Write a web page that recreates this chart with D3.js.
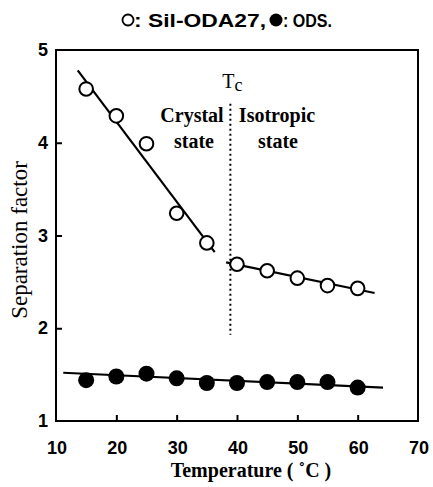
<!DOCTYPE html>
<html><head><meta charset="utf-8">
<script src="https://cdn.jsdelivr.net/npm/d3@7"></script>
<style>body{margin:0;background:#fff}svg{display:block}</style>
</head><body>
<svg id="c" width="433" height="487"></svg>
<script>
const temps = [15,20,25,30,35,40,45,50,55,60];
const silODA27 = [4.58,4.29,3.99,3.24,2.92,2.69,2.62,2.54,2.46,2.43];
const ods = [1.44,1.48,1.51,1.46,1.41,1.41,1.42,1.42,1.42,1.36];
const crystalFit = [[13.6,4.78],[36.3,2.82]];
const isoFit = [[38.2,2.71],[62.8,2.38]];
const odsFit = [[11.2,1.52],[64.2,1.36]];
const tc = 38.9;
const tcRange = [4.42,1.93];
const xTicks = [10,20,30,40,50,60,70];
const yTicks = [1,2,3,4,5];

const svg = d3.select('#c');
const L=56,R=418,T=50,B=421;
const x = d3.scaleLinear().domain([10,70]).range([L,R]);
const y = d3.scaleLinear().domain([1,5]).range([B,T]);
const sans='Liberation Sans, Arial, sans-serif';
const serif='Liberation Serif, Times New Roman, serif';

// frame
svg.append('rect').attr('x',L).attr('y',T).attr('width',R-L).attr('height',B-T)
  .attr('fill','none').attr('stroke','#000').attr('stroke-width',2);

// inward ticks
svg.append('g').attr('transform',`translate(0,${B})`)
  .call(d3.axisBottom(x).tickValues(xTicks.slice(1,-1)).tickSizeInner(-6).tickSizeOuter(0).tickFormat(''))
  .call(g=>{g.select('.domain').remove();g.selectAll('line').attr('stroke-width',2);});
svg.append('g').attr('transform',`translate(${L},0)`)
  .call(d3.axisLeft(y).tickValues(yTicks.slice(1,-1)).tickSizeInner(-6).tickSizeOuter(0).tickFormat(''))
  .call(g=>{g.select('.domain').remove();g.selectAll('line').attr('stroke-width',2);});

// tick labels
svg.append('g').selectAll('text').data(xTicks).join('text')
  .attr('x',d=>x(d)+1).attr('y',454).attr('text-anchor','middle')
  .attr('font-family',sans).attr('font-weight','bold').attr('font-size',18)
  .text(d=>d);
svg.append('g').selectAll('text').data(yTicks).join('text')
  .attr('x',48).attr('y',d=>y(d)+6).attr('text-anchor','end')
  .attr('font-family',sans).attr('font-weight','bold').attr('font-size',18)
  .text(d=>d);

// axis titles
svg.append('text').attr('transform','translate(27,240) rotate(-90)').attr('text-anchor','middle')
  .attr('font-family',serif).attr('font-size',23).text('Separation factor');
svg.append('text').attr('x',251).attr('y',477).attr('text-anchor','middle')
  .attr('font-family',serif).attr('font-weight','bold').attr('font-size',20).text('Temperature ( ˚C )');

// title (legend)
svg.append('circle').attr('cx',128).attr('cy',20).attr('r',5.5).attr('fill','#fff').attr('stroke','#000').attr('stroke-width',1.8);
svg.append('text').attr('x',134).attr('y',27).attr('font-family',sans).attr('font-weight','bold').attr('font-size',18)
  .attr('textLength',132).attr('lengthAdjust','spacingAndGlyphs').text(': Sil-ODA27,');
svg.append('circle').attr('cx',276).attr('cy',20).attr('r',6.5).attr('fill','#000');
svg.append('text').attr('x',283).attr('y',27).attr('font-family',sans).attr('font-weight','bold').attr('font-size',18)
  .attr('textLength',49).attr('lengthAdjust','spacingAndGlyphs').text(': ODS.');

// fit lines
const line = d3.line().x(d=>x(d[0])).y(d=>y(d[1]));
[crystalFit,isoFit,odsFit].forEach(f=>svg.append('path').attr('d',line(f)).attr('fill','none').attr('stroke','#000').attr('stroke-width',2.2));

// Tc dotted line
svg.append('line').attr('x1',x(tc)).attr('x2',x(tc)).attr('y1',y(tcRange[0])).attr('y2',y(tcRange[1]))
  .attr('stroke','#000').attr('stroke-width',2).attr('stroke-dasharray','2,3');

// annotations
const tcT = svg.append('text').attr('x',x(tc)-8).attr('y',88).attr('font-family',serif).attr('font-size',20);
tcT.append('tspan').text('T');
tcT.append('tspan').attr('font-size',18).attr('dy',3).text('c');
const ann=[['Crystal',192,122],['state',194,148],['Isotropic',277,122],['state',278,148]];
svg.append('g').selectAll('text').data(ann).join('text')
  .attr('x',d=>d[1]).attr('y',d=>d[2]).attr('text-anchor','middle')
  .attr('font-family',serif).attr('font-weight','bold').attr('font-size',20).text(d=>d[0]);

// points
svg.append('g').selectAll('circle').data(temps.map((t,i)=>[t,silODA27[i]])).join('circle')
  .attr('cx',d=>x(d[0])).attr('cy',d=>y(d[1])).attr('r',6.8)
  .attr('fill','#fff').attr('stroke','#000').attr('stroke-width',2);
svg.append('g').selectAll('circle').data(temps.map((t,i)=>[t,ods[i]])).join('circle')
  .attr('cx',d=>x(d[0])).attr('cy',d=>y(d[1])).attr('r',8).attr('fill','#000');
</script>
</body></html>
